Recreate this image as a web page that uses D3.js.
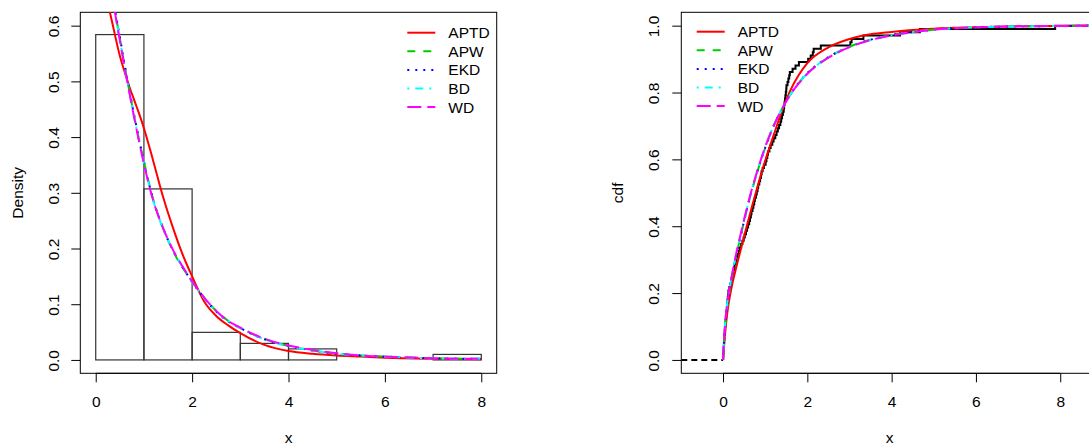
<!DOCTYPE html>
<html>
<head>
<meta charset="utf-8">
<script src="https://cdn.jsdelivr.net/npm/d3@7"></script>
<style>
  body { margin: 0; background: #fff; }
  text { font-family: "Liberation Sans", Arial, sans-serif; fill: #000; }
</style>
</head>
<body>
<script>
// histogram of the data (bin edges and density heights)
const binEdges = [0, 1, 2, 3, 4, 5, 6, 7, 8];
const binDensity = [0.584, 0.307, 0.0495, 0.0297, 0.0198, 0, 0, 0.0099];

// fitted densities
const densX    = [0.2, 0.3, 0.4, 0.5, 0.6, 0.7, 0.8, 0.9, 1.0, 1.2, 1.4, 1.6, 1.8, 2.0, 2.25, 2.5, 2.75, 3.0, 3.5, 4.0, 4.5, 5, 5.5, 6, 7, 8];
const densAPTD = [0.66, 0.622, 0.583, 0.546, 0.517, 0.49, 0.466, 0.442, 0.416, 0.355, 0.292, 0.238, 0.19, 0.15, 0.105, 0.079, 0.062, 0.048, 0.027, 0.016, 0.011, 0.008, 0.006, 0.004, 0.002, 0.001];
const densAPW  = [0.78, 0.70, 0.628, 0.578, 0.528, 0.482, 0.437, 0.395, 0.356, 0.286, 0.236, 0.196, 0.166, 0.141, 0.112, 0.088, 0.070, 0.057, 0.038, 0.025, 0.017, 0.011, 0.008, 0.006, 0.003, 0.002];
const densEKD  = [0.78, 0.70, 0.630, 0.580, 0.530, 0.483, 0.438, 0.396, 0.356, 0.285, 0.236, 0.197, 0.167, 0.140, 0.111, 0.087, 0.069, 0.057, 0.037, 0.025, 0.017, 0.011, 0.008, 0.006, 0.003, 0.002];
const densBD   = [0.77, 0.69, 0.625, 0.575, 0.526, 0.480, 0.435, 0.393, 0.353, 0.284, 0.235, 0.197, 0.167, 0.140, 0.111, 0.087, 0.070, 0.057, 0.037, 0.025, 0.017, 0.011, 0.008, 0.006, 0.003, 0.002];
const densWD   = [0.77, 0.69, 0.624, 0.574, 0.525, 0.479, 0.434, 0.392, 0.352, 0.284, 0.236, 0.198, 0.168, 0.141, 0.112, 0.088, 0.070, 0.058, 0.038, 0.026, 0.018, 0.012, 0.008, 0.006, 0.003, 0.002];

// observed sample (n = 101), for the empirical cdf
const sample = [
  0.003, 0.006, 0.01, 0.015, 0.02, 0.025, 0.03, 0.035, 0.04, 0.047, 0.053, 0.06, 0.067, 0.075, 0.085,
  0.095, 0.1, 0.105, 0.112, 0.12, 0.128, 0.15, 0.17, 0.19, 0.205, 0.225, 0.24, 0.26, 0.275,
  0.3, 0.32, 0.345, 0.37, 0.395, 0.43, 0.46, 0.49, 0.515, 0.545, 0.57, 0.595,
  0.62, 0.64, 0.66, 0.675, 0.70, 0.72, 0.74, 0.755, 0.78, 0.80, 0.82, 0.835,
  0.86, 0.88, 0.90, 0.915, 0.94, 0.97,
  1.01, 1.03, 1.05, 1.065, 1.1, 1.13, 1.17, 1.2, 1.24, 1.27, 1.3,
  1.33, 1.36, 1.38, 1.4, 1.42, 1.44, 1.45, 1.46, 1.47, 1.48, 1.49, 1.5, 1.505,
  1.53, 1.55, 1.57, 1.585, 1.65, 1.72, 1.8,
  2.02, 2.08, 2.13, 2.15, 2.32, 3.02, 3.05, 3.33, 4.2, 4.67, 7.88
];

// fitted cdfs
const cdfX    = [0, 0.05, 0.1, 0.2, 0.3, 0.4, 0.5, 0.6, 0.7, 0.8, 0.9, 1.0, 1.2, 1.4, 1.6, 1.8, 2.0, 2.5, 3.0, 3.5, 4.0, 4.5, 5, 6, 7, 8, 9];
const cdfAPTD = [0, 0.08, 0.14, 0.215, 0.27, 0.32, 0.37, 0.418, 0.465, 0.51, 0.555, 0.596, 0.672, 0.745, 0.807, 0.853, 0.888, 0.935, 0.96, 0.974, 0.981, 0.987, 0.991, 0.995, 0.998, 0.999, 1];
const cdfAPW  = [0, 0.10, 0.16, 0.240, 0.305, 0.36, 0.415, 0.467, 0.514, 0.557, 0.597, 0.634, 0.70, 0.751, 0.794, 0.829, 0.857, 0.905, 0.937, 0.958, 0.972, 0.981, 0.988, 0.995, 0.998, 0.999, 1];
const cdfEKD  = [0, 0.10, 0.16, 0.241, 0.306, 0.361, 0.416, 0.468, 0.515, 0.558, 0.598, 0.635, 0.70, 0.752, 0.795, 0.830, 0.858, 0.906, 0.937, 0.958, 0.972, 0.981, 0.988, 0.995, 0.998, 0.999, 1];
const cdfBD   = [0, 0.11, 0.17, 0.245, 0.310, 0.365, 0.419, 0.470, 0.517, 0.559, 0.599, 0.636, 0.70, 0.751, 0.794, 0.829, 0.857, 0.905, 0.936, 0.957, 0.971, 0.981, 0.988, 0.995, 0.998, 0.999, 1];
const cdfWD   = [0, 0.11, 0.17, 0.246, 0.311, 0.366, 0.420, 0.471, 0.518, 0.560, 0.600, 0.637, 0.70, 0.751, 0.794, 0.828, 0.856, 0.904, 0.936, 0.957, 0.971, 0.980, 0.988, 0.995, 0.998, 0.999, 1];

const seriesNames = ['APTD', 'APW', 'EKD', 'BD', 'WD'];
const seriesColors = ['#ff0000', '#00cd00', '#0000ff', '#00ffff', '#ff00ff'];
const seriesDash = [null, '8,8', '2,6', '2,6,8,6', '14,6'];

const svg = d3.select('body').append('svg')
  .attr('width', 1089)
  .attr('height', 446);

const fs = 15.5;

// draws one R-style panel: box, axes, titles; returns scales and a clipped group
function panel(id, xDomain, xRange, yDomain, yRange, xTicks, yTicks, yTitle, yTitleX, yLabelOff) {
  const x = d3.scaleLinear().domain(xDomain).range(xRange);
  const y = d3.scaleLinear().domain(yDomain).range(yRange);

  svg.append('clipPath').attr('id', id)
    .append('rect')
    .attr('x', xRange[0]).attr('y', yRange[1])
    .attr('width', xRange[1] - xRange[0]).attr('height', yRange[0] - yRange[1]);

  const xAxis = svg.append('g')
    .attr('transform', `translate(0,${yRange[0]})`)
    .call(d3.axisBottom(x).tickValues(xTicks).tickSize(9).tickPadding(14).tickFormat(d3.format('d')));
  xAxis.select('.domain').remove();
  xAxis.selectAll('text').attr('font-size', fs).attr('font-family', null);
  xAxis.append('line')
    .attr('x1', x(xTicks[0])).attr('x2', x(xTicks[xTicks.length - 1]))
    .attr('stroke', '#000');

  const yAxis = svg.append('g')
    .attr('transform', `translate(${xRange[0]},0)`)
    .call(d3.axisLeft(y).tickValues(yTicks).tickSize(9).tickFormat(d3.format('.1f')));
  yAxis.select('.domain').remove();
  yAxis.selectAll('text')
    .attr('font-size', fs).attr('font-family', null)
    .attr('x', null)
    .attr('text-anchor', 'middle')
    .attr('transform', `translate(${-yLabelOff},0.35) rotate(-90)`)
    .attr('dy', '0.35em');

  // plot box
  svg.append('rect')
    .attr('x', xRange[0]).attr('y', yRange[1])
    .attr('width', xRange[1] - xRange[0]).attr('height', yRange[0] - yRange[1])
    .attr('fill', 'none').attr('stroke', '#000').attr('stroke-width', 1);

  svg.append('text')
    .attr('x', (xRange[0] + xRange[1]) / 2).attr('y', 443)
    .attr('text-anchor', 'middle').attr('font-size', fs)
    .text('x');

  svg.append('text')
    .attr('transform', `translate(${yTitleX},${(yRange[0] + yRange[1]) / 2}) rotate(-90)`)
    .attr('text-anchor', 'middle').attr('dy', '0.35em').attr('font-size', fs)
    .text(yTitle);

  const g = svg.append('g').attr('clip-path', `url(#${id})`);
  return { x, y, g };
}

function legend(lineX, rowY) {
  const lg = svg.append('g');
  seriesNames.forEach((name, i) => {
    const yy = rowY + i * 18.6;
    lg.append('line')
      .attr('x1', lineX).attr('x2', lineX + 28)
      .attr('y1', yy).attr('y2', yy)
      .attr('stroke', seriesColors[i]).attr('stroke-width', 2)
      .attr('stroke-dasharray', seriesDash[i]);
    lg.append('text')
      .attr('x', lineX + 41).attr('y', yy).attr('dy', '0.36em')
      .attr('font-size', fs)
      .text(name);
  });
}

// ---------- left: histogram with fitted densities ----------
const L = panel('clipL', [-0.32, 8.32], [80.3, 496.7], [-0.024, 0.624], [373.3, 12.3],
  [0, 2, 4, 6, 8], [0, 0.1, 0.2, 0.3, 0.4, 0.5, 0.6], 'Density', 18, 27);

L.g.selectAll('rect.bar')
  .data(binDensity)
  .enter()
  .append('rect')
  .attr('class', 'bar')
  .attr('x', (d, i) => L.x(binEdges[i]))
  .attr('y', d => L.y(d))
  .attr('width', (d, i) => L.x(binEdges[i + 1]) - L.x(binEdges[i]))
  .attr('height', d => L.y(0) - L.y(d))
  .attr('fill', 'none')
  .attr('stroke', '#333')
  .attr('stroke-width', 1.2);

const densLine = d3.line()
  .x(d => L.x(d[0]))
  .y(d => L.y(d[1]))
  .curve(d3.curveMonotoneX);

[densAPTD, densAPW, densEKD, densBD, densWD].forEach((vals, i) => {
  L.g.append('path')
    .attr('d', densLine(densX.map((xv, j) => [xv, vals[j]])))
    .attr('fill', 'none')
    .attr('stroke', seriesColors[i])
    .attr('stroke-width', 2)
    .attr('stroke-dasharray', seriesDash[i]);
});

legend(407.3, 32.7);

// ---------- right: empirical cdf with fitted cdfs ----------
const R = panel('clipR', [-0.99, 8.9], [681.3, 681.3 + 9.89 * 42.15], [-0.04, 1.04], [373.3, 12.3],
  [0, 2, 4, 6, 8], [0, 0.2, 0.4, 0.6, 0.8, 1.0], 'cdf', 618, 28);

const sorted = sample.slice().sort(d3.ascending);
const n = sorted.length;
const ecdfPts = [[sorted[0], 0]].concat(sorted.map((v, i) => [v, (i + 1) / n]));
ecdfPts.push([9, 1]);

R.g.append('line')
  .attr('x1', R.x(-0.99)).attr('x2', R.x(sorted[0]))
  .attr('y1', R.y(0)).attr('y2', R.y(0))
  .attr('stroke', '#000').attr('stroke-width', 2)
  .attr('stroke-dasharray', '6,4');

R.g.append('path')
  .attr('d', d3.line().x(d => R.x(d[0])).y(d => R.y(d[1])).curve(d3.curveStepAfter)(ecdfPts))
  .attr('fill', 'none')
  .attr('stroke', '#000')
  .attr('stroke-width', 2);

const cdfLine = d3.line()
  .x(d => R.x(d[0]))
  .y(d => R.y(d[1]))
  .curve(d3.curveMonotoneX);

[cdfAPTD, cdfAPW, cdfEKD, cdfBD, cdfWD].forEach((vals, i) => {
  R.g.append('path')
    .attr('d', cdfLine(cdfX.map((xv, j) => [xv, vals[j]])))
    .attr('fill', 'none')
    .attr('stroke', seriesColors[i])
    .attr('stroke-width', 2)
    .attr('stroke-dasharray', seriesDash[i]);
});

legend(696.7, 31.7);
</script>
</body>
</html>
